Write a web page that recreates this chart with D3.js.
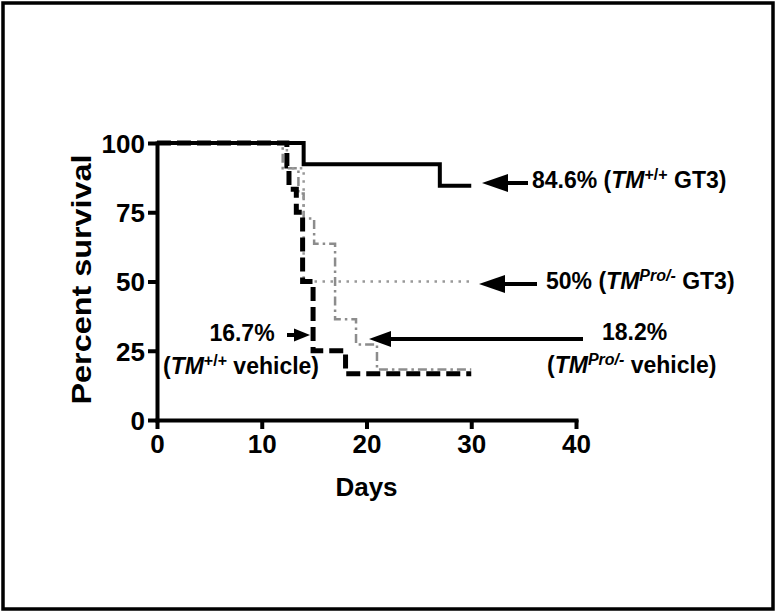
<!DOCTYPE html>
<html>
<head>
<meta charset="utf-8">
<script src="https://cdn.jsdelivr.net/npm/d3@7"></script>
<style>
    body { margin: 0; background: #fff; }
    text { font-family: "Liberation Sans", Arial, sans-serif; font-weight: bold; fill: #000; }
</style>
</head>
<body>
<div id="chart"></div>
<script>
// survival curves (Kaplan-Meier steps)
const wtGt3Days = [0, 14, 27, 30];
const wtGt3Surv = [100, 92.3, 84.6, 84.6];

const proGt3Days = [0, 12.4, 14, 30];
const proGt3Surv = [100, 90.9, 50, 50];

const wtVehDays = [0, 12.4, 12.6, 13.3, 13.9, 14.9, 18, 30];
const wtVehSurv = [100, 91.7, 83.3, 75, 50, 25, 16.7, 16.7];

const proVehDays = [0, 12, 13.5, 14, 15, 17, 19, 21, 30];
const proVehSurv = [100, 90.9, 81.8, 72.7, 63.6, 36.4, 27.3, 18.2, 18.2];

const xTicks = [0, 10, 20, 30, 40];
const yTicks = [0, 25, 50, 75, 100];

const width = 776;
const height = 613;

const svg = d3.select("#chart").append("svg")
    .attr("width", width)
    .attr("height", height);

// outer frame
svg.append("rect")
    .attr("x", 3).attr("y", 3)
    .attr("width", width - 6).attr("height", height - 7)
    .attr("fill", "none")
    .attr("stroke", "#000")
    .attr("stroke-width", 3.5);

const xScale = d3.scaleLinear().domain([0, 40]).range([157, 576]);
const yScale = d3.scaleLinear().domain([0, 100]).range([420, 143]);

// axes
const xAxis = svg.append("g")
    .attr("transform", `translate(0, ${yScale(0)})`)
    .call(d3.axisBottom(xScale).tickValues(xTicks).tickSize(9).tickPadding(6).tickSizeOuter(0));
const yAxis = svg.append("g")
    .attr("transform", `translate(${xScale(0)}, 0)`)
    .call(d3.axisLeft(yScale).tickValues(yTicks).tickSize(9).tickPadding(3).tickSizeOuter(0));

[xAxis, yAxis].forEach(function (g) {
    g.select(".domain").attr("stroke", "#000").attr("stroke-width", 4).attr("stroke-linecap", "square");
    g.selectAll(".tick line").attr("stroke", "#000").attr("stroke-width", 4);
    g.selectAll(".tick text")
        .style("font-family", "'Liberation Sans', Arial, sans-serif")
        .style("font-weight", "bold")
        .style("font-size", "26px")
        .attr("fill", "#000");
});
yAxis.selectAll(".tick text").attr("dy", "0.36em");

// axis titles
svg.append("text")
    .attr("x", xScale(20))
    .attr("y", 496)
    .attr("text-anchor", "middle")
    .style("font-size", "26px")
    .text("Days");

svg.append("text")
    .attr("transform", `translate(91, ${(yScale(0) + yScale(100)) / 2 - 2}) rotate(-90)`)
    .attr("text-anchor", "middle")
    .attr("textLength", 250)
    .attr("lengthAdjust", "spacingAndGlyphs")
    .style("font-size", "27px")
    .text("Percent survival");

// survival lines
const line = d3.line()
    .x(function (d) { return xScale(d[0]); })
    .y(function (d) { return yScale(d[1]); })
    .curve(d3.curveStepAfter);

function drawCurve(days, surv, color, widthPx, dash) {
    svg.append("path")
        .datum(days.map(function (d, i) { return [d, surv[i]]; }))
        .attr("fill", "none")
        .attr("stroke", color)
        .attr("stroke-width", widthPx)
        .attr("stroke-dasharray", dash)
        .attr("d", line);
}

drawCurve(proVehDays, proVehSurv, "#8c8c8c", 2.5, "9,4,2.5,4");
drawCurve(proGt3Days, proGt3Surv, "#999", 2.5, "2.5,5.5");
drawCurve(wtVehDays, wtVehSurv, "#000", 5, "14,6");
drawCurve(wtGt3Days, wtGt3Surv, "#000", 4, null);

// arrows: tail x, tip x, y, head length, head height
function arrow(x1, x2, y, hl, hh) {
    const dir = x2 < x1 ? 1 : -1;
    svg.append("line")
        .attr("x1", x1).attr("y1", y)
        .attr("x2", x2 + dir * (hl - 4)).attr("y2", y)
        .attr("stroke", "#000")
        .attr("stroke-width", 4);
    svg.append("path")
        .attr("d", `M${x2},${y} L${x2 + dir * hl},${y - hh / 2} L${x2 + dir * hl},${y + hh / 2} Z`)
        .attr("fill", "#000");
}

arrow(528, 482, 183, 26, 18);
arrow(537, 479, 284, 26, 18);
arrow(583, 369, 339, 22, 16);
arrow(287, 310, 335, 16, 13);

// annotation labels
function label(x, y, parts, anchor) {
    const t = svg.append("text")
        .attr("x", x).attr("y", y)
        .attr("text-anchor", anchor || "start")
        .style("font-size", "23px");
    parts.forEach(function (p) {
        const ts = t.append("tspan").text(p.text);
        if (p.italic) ts.style("font-style", "italic");
        if (p.sup) ts.attr("baseline-shift", "super").style("font-size", "16px");
    });
}

const tmWt = [{ text: "TM", italic: true }, { text: "+/+", sup: true }];
const tmPro = [{ text: "TM", italic: true }, { text: "Pro/-", sup: true, italic: true }];

label(532, 188, [{ text: "84.6% (" }].concat(tmWt, [{ text: " GT3)" }]));
label(546, 289, [{ text: "50% (" }].concat(tmPro, [{ text: " GT3)" }]));
label(602, 340, [{ text: "18.2%" }]);
label(547, 373, [{ text: "(" }].concat(tmPro, [{ text: " vehicle)" }]));
label(242, 341, [{ text: "16.7%" }], "middle");
label(241, 374, [{ text: "(" }].concat(tmWt, [{ text: " vehicle)" }]), "middle");
</script>
</body>
</html>
